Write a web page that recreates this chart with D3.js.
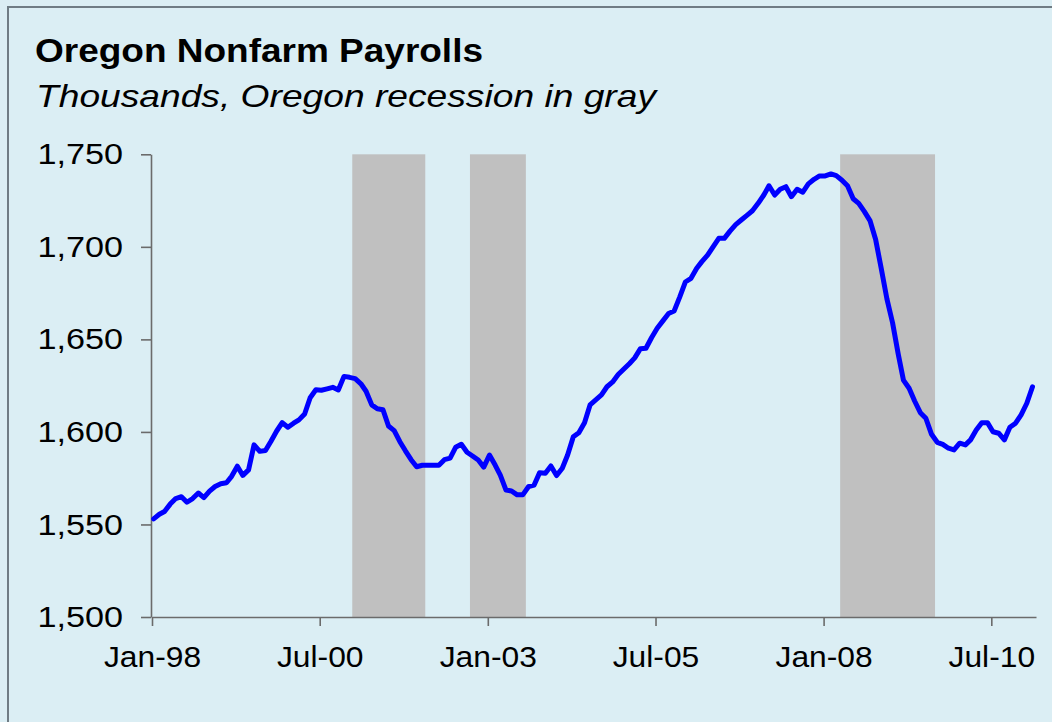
<!DOCTYPE html>
<html>
<head>
<meta charset="utf-8">
<script src="https://cdn.jsdelivr.net/npm/d3@7/dist/d3.min.js"></script>
<style>
  html, body { margin: 0; padding: 0; background: #dbeef4; overflow: hidden; }
  svg { display: block; }
</style>
</head>
<body>
<script>
// Oregon nonfarm payrolls, thousands, monthly from Jan-98
const firstMonth = "1998-01";
const payrolls = [
    1553, 1555.5, 1557, 1561, 1564, 1565, 1562, 1564, 1567, 1564.5, 1568, 1570.5,
    1572, 1572.5, 1576, 1581.5, 1576.5, 1579.5, 1593, 1589.5, 1590, 1595, 1600.5, 1605,
    1602.5, 1604.7, 1606.5, 1609.7, 1618.5, 1622.8, 1622.5, 1623.3, 1624.1, 1622.7, 1630, 1629.5,
    1628.8, 1626, 1622, 1614.6, 1612.5, 1612, 1603.2, 1600.7, 1594.7, 1589.8, 1585, 1581.2,
    1582, 1582, 1582, 1582, 1585, 1585.8, 1591.7, 1593.3, 1589, 1587, 1584.8, 1581,
    1587.5, 1582.1, 1576.7, 1568.6, 1568.1, 1566, 1566, 1570.4, 1571.3, 1578, 1577.7, 1581.6,
    1576.4, 1580.4, 1587.5, 1597.4, 1599.6, 1605, 1614.6, 1617.3, 1620, 1624.4, 1627, 1631,
    1634, 1637, 1640, 1645, 1645.2, 1651, 1656, 1660, 1664, 1665.3, 1673, 1681,
    1683, 1688.4, 1692, 1695.5, 1700, 1704.6, 1704.6, 1708.5, 1712, 1714.5, 1717, 1719.5,
    1723.5, 1728, 1733, 1728, 1731.1, 1732.5, 1727.1, 1731.1, 1729.5, 1734, 1736.5, 1738.3,
    1738.3, 1739.4, 1738.5, 1736, 1733, 1726, 1723.5, 1719, 1714, 1704, 1688, 1672,
    1659, 1642, 1628, 1623.6, 1616.7, 1610.4, 1607.4, 1598.7, 1594.4, 1593.3, 1591.2, 1590.3,
    1593.9, 1593, 1595.7, 1601, 1605, 1605, 1600.1, 1599.3, 1595.7, 1602.5, 1604.7, 1609.2,
    1615.5, 1624.4
];

// Oregon recessions (shaded)
const recessions = [
    ["2000-12-25", "2002-01-26"],
    ["2002-09-26", "2003-07-27"],
    ["2008-03-31", "2009-08-29"]
];

const yTicks = [1500, 1550, 1600, 1650, 1700, 1750];
const xTicks = ["1998-01", "2000-07", "2003-01", "2005-07", "2008-01", "2010-07"];
const xDomain = ["1998-01", "2011-03"];

const W = 1052, H = 722;
const plot = { left: 151, right: 1036, top: 154.3, bottom: 617 };
const FONT = "Liberation Sans, Arial, sans-serif";

const parseMonth = d3.timeParse("%Y-%m");
const parseDay = d3.timeParse("%Y-%m-%d");

const start = parseMonth(firstMonth);
const series = payrolls.map((v, i) => ({
    date: d3.timeDay.offset(d3.timeMonth.offset(start, i), 9),
    value: v
}));

const svg = d3.select("body").append("svg")
    .attr("width", W)
    .attr("height", H);

// chart background + frame
svg.append("rect")
    .attr("width", W).attr("height", H)
    .attr("fill", "#dbeef4");

svg.append("rect")
    .attr("x", 8).attr("y", 7)
    .attr("width", W + 50).attr("height", H + 50)
    .attr("fill", "none")
    .attr("stroke", "#6f7c84")
    .attr("stroke-width", 2);

// titles (the original is stretched a little wider than plain Arial)
svg.append("text")
    .attr("x", 35).attr("y", 62)
    .attr("font-family", FONT)
    .attr("font-size", 33)
    .attr("font-weight", 700)
    .attr("textLength", 448)
    .attr("lengthAdjust", "spacingAndGlyphs")
    .text("Oregon Nonfarm Payrolls");

svg.append("text")
    .attr("x", 36).attr("y", 107)
    .attr("font-family", FONT)
    .attr("font-size", 32)
    .attr("font-style", "italic")
    .attr("textLength", 620)
    .attr("lengthAdjust", "spacingAndGlyphs")
    .text("Thousands, Oregon recession in gray");

// scales
const x = d3.scaleTime()
    .domain(xDomain.map(parseMonth))
    .range([plot.left + 1, plot.right]);

const y = d3.scaleLinear()
    .domain([1500, 1750])
    .range([plot.bottom, plot.top]);

// recession bands
svg.append("g")
    .selectAll("rect")
    .data(recessions)
    .join("rect")
    .attr("x", d => x(parseDay(d[0])))
    .attr("width", d => x(parseDay(d[1])) - x(parseDay(d[0])))
    .attr("y", y(1750))
    .attr("height", y(1500) - y(1750))
    .attr("fill", "#c0c0c0");

// axes
const fmt = d3.timeFormat("%b-%y");

const yAxis = svg.append("g")
    .attr("transform", `translate(${plot.left},0)`)
    .call(d3.axisLeft(y)
        .tickValues(yTicks)
        .tickFormat(d3.format(","))
        .tickSize(10)
        .tickSizeOuter(0)
        .tickPadding(18));

const xAxis = svg.append("g")
    .attr("transform", `translate(0,${plot.bottom})`)
    .call(d3.axisBottom(x)
        .tickValues(xTicks.map(parseMonth))
        .tickFormat(fmt)
        .tickSize(9)
        .tickSizeOuter(0)
        .tickPadding(20));

[yAxis, xAxis].forEach(g => {
    g.select(".domain").attr("stroke", "#6b6b6b").attr("stroke-width", 1.6);
    g.selectAll(".tick line").attr("stroke", "#6b6b6b").attr("stroke-width", 1.6);
    g.selectAll(".tick text")
        .attr("fill", "#000")
        .attr("font-family", FONT)
        .attr("font-size", 30);
});

yAxis.selectAll(".tick text")
    .attr("x", 0)
    .attr("transform", "translate(-28,0) scale(1.14,1)");

xAxis.selectAll(".tick text")
    .attr("transform", "scale(1.06,1)");

// payroll line
const line = d3.line()
    .x(d => x(d.date))
    .y(d => y(d.value));

svg.append("path")
    .datum(series)
    .attr("fill", "none")
    .attr("stroke", "#0000ff")
    .attr("stroke-width", 5)
    .attr("stroke-linejoin", "round")
    .attr("stroke-linecap", "round")
    .attr("d", line);
</script>
</body>
</html>
